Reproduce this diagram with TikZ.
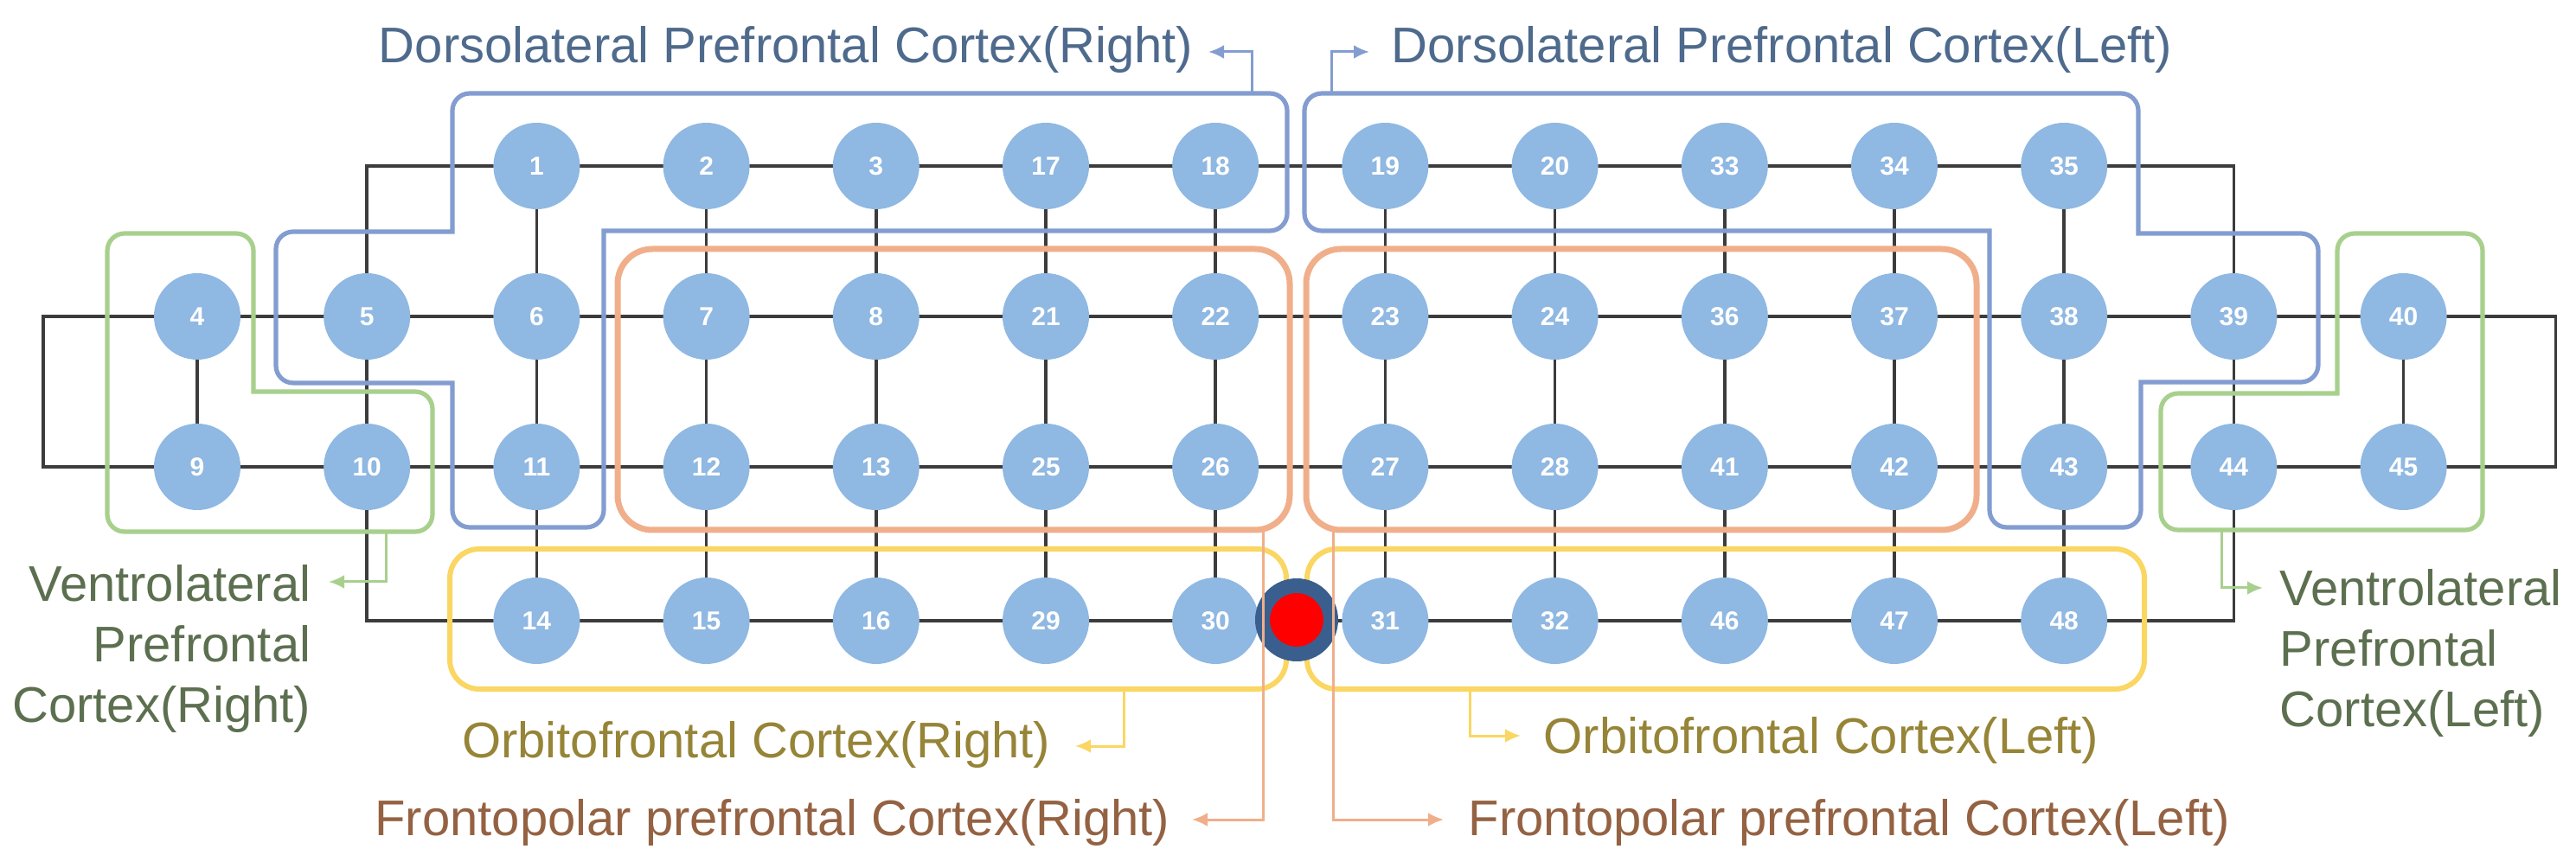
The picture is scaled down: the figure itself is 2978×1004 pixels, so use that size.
\documentclass[tikz,border=0pt]{standalone}
\usepackage{fontspec}
\setmainfont{Liberation Sans}
\usetikzlibrary{arrows.meta}
\definecolor{nodefill}{RGB}{143,184,226}
\definecolor{gridcol}{RGB}{60,60,60}
\definecolor{blueline}{RGB}{131,157,208}
\definecolor{bluetext}{RGB}{78,106,140}
\definecolor{greenline}{RGB}{168,208,141}
\definecolor{greentext}{RGB}{92,112,80}
\definecolor{orangeline}{RGB}{240,175,138}
\definecolor{orangetext}{RGB}{148,98,66}
\definecolor{yellowline}{RGB}{250,214,98}
\definecolor{yellowtext}{RGB}{150,132,55}
\definecolor{ringcol}{RGB}{58,95,142}
\pgfdeclarelayer{gridlayer}
\pgfdeclarelayer{regionlayer}
\pgfsetlayers{gridlayer,regionlayer,main}
\tikzset{
  ch/.style={circle, fill=nodefill, minimum size=25pt, inner sep=0pt, text=white,
             font=\fontsize{7.5}{9}\selectfont\bfseries},
  gridline/.style={draw=gridcol, line width=0.9pt},
  region/.style={line width=1.3pt, rounded corners=5pt},
  lbl/.style={inner sep=0pt, font=\fontsize{14.5}{17.5}\selectfont},
  lead/.style={line width=0.75pt, -{Latex[length=4.5pt,width=4pt]}},
}
\begin{document}
\begin{tikzpicture}[x=0.25pt,y=-0.25pt]
\useasboundingbox (0,0) rectangle (2978,1004);

% ---- channel nodes ----
\foreach \lab [count=\i from 3] in {1,2,3,17,18,19,20,33,34,35}
  \node[ch] (n\lab) at ({228+196.2*(\i-1)},192) {\lab};
\foreach \lab [count=\i from 1] in {4,5,6,7,8,21,22,23,24,36,37,38,39,40}
  \node[ch] (n\lab) at ({228+196.2*(\i-1)},366) {\lab};
\foreach \lab [count=\i from 1] in {9,10,11,12,13,25,26,27,28,41,42,43,44,45}
  \node[ch] (n\lab) at ({228+196.2*(\i-1)},540) {\lab};
\foreach \lab [count=\i from 3] in {14,15,16,29,30,31,32,46,47,48}
  \node[ch] (n\lab) at ({228+196.2*(\i-1)},718) {\lab};

% ---- marker ----
\node[circle, fill=red, draw=ringcol, line width=4.25pt, minimum size=19.75pt, inner sep=0pt]
  (marker) at (1499,717) {};

% ---- grid ----
\begin{pgfonlayer}{gridlayer}
\draw[gridline] (n5.center) |- (n1.center) -- (n35.center) -| (n39.center);
\draw[gridline] (n4.center) -- ++(-178,0) |- (n9.center) -- (n45.center) -- ++(176,0) |- (n40.center) -- (n4.center);
\draw[gridline] (n10.center) |- (n14.center) -- (n48.center) -| (n44.center);
\draw[gridline] (n4.center) -- (n9.center);
\draw[gridline] (n5.center) -- (n10.center);
\draw[gridline] (n1.center) -- (n6.center) -- (n11.center) -- (n14.center);
\draw[gridline] (n2.center) -- (n7.center) -- (n12.center) -- (n15.center);
\draw[gridline] (n3.center) -- (n8.center) -- (n13.center) -- (n16.center);
\draw[gridline] (n17.center) -- (n21.center) -- (n25.center) -- (n29.center);
\draw[gridline] (n18.center) -- (n22.center) -- (n26.center) -- (n30.center);
\draw[gridline] (n19.center) -- (n23.center) -- (n27.center) -- (n31.center);
\draw[gridline] (n20.center) -- (n24.center) -- (n28.center) -- (n32.center);
\draw[gridline] (n33.center) -- (n36.center) -- (n41.center) -- (n46.center);
\draw[gridline] (n34.center) -- (n37.center) -- (n42.center) -- (n47.center);
\draw[gridline] (n35.center) -- (n38.center) -- (n43.center) -- (n48.center);
\draw[gridline] (n39.center) -- (n44.center);
\draw[gridline] (n40.center) -- (n45.center);
\end{pgfonlayer}

% ---- regions ----
\begin{pgfonlayer}{regionlayer}
% Dorsolateral right
\draw[region, draw=blueline] (1000,108) -- (1488,108) -- (1488,267)
  [sharp corners] -- (698,267) [rounded corners=5pt] -- (698,610) -- (523,610)
  [sharp corners] -- (523,443) [rounded corners=5pt] -- (319,443) -- (319,268)
  [sharp corners] -- (523,268) [rounded corners=5pt] -- (523,108) -- cycle;
% Dorsolateral left
\draw[region, draw=blueline] (2000,108) -- (2472,108)
  [sharp corners] -- (2472,270) [rounded corners=5pt] -- (2680,270) -- (2680,442)
  [sharp corners] -- (2475,442) [rounded corners=5pt] -- (2475,610) -- (2300,610)
  [sharp corners] -- (2300,267) [rounded corners=5pt] -- (1508,267) -- (1508,108) -- cycle;
% Ventrolateral right
\draw[region, draw=greenline] (200,270) -- (293,270)
  [sharp corners] -- (293,453) [rounded corners=5pt] -- (500,453) -- (500,615) -- (124,615) -- (124,270) -- cycle;
% Ventrolateral left
\draw[region, draw=greenline] (2780,270) -- (2870,270) -- (2870,613) -- (2498,613) -- (2498,455)
  [sharp corners] -- (2702,455) [rounded corners=5pt] -- (2702,270) -- cycle;
% Frontopolar
\draw[draw=orangeline, line width=1.75pt, rounded corners=10pt] (714,288) rectangle (1491,613);
\draw[draw=orangeline, line width=1.75pt, rounded corners=10pt] (1510,288) rectangle (2285,613);
% Orbitofrontal
\draw[draw=yellowline, line width=1.5pt, rounded corners=8.5pt] (520,635) rectangle (1487,797);
\draw[draw=yellowline, line width=1.5pt, rounded corners=8.5pt] (1511,635) rectangle (2479,797);
\end{pgfonlayer}

% ---- labels ----
\node[lbl, text=bluetext, anchor=base east] (lDLR) at (1380,73) {Dorsolateral Prefrontal Cortex(Right)};
\node[lbl, text=bluetext, anchor=base west] (lDLL) at (1608,73) {Dorsolateral Prefrontal Cortex(Left)};
\node[lbl, text=yellowtext, anchor=base east] (lOFR) at (1215,876) {Orbitofrontal Cortex(Right)};
\node[lbl, text=yellowtext, anchor=base west] (lOFL) at (1784,871) {Orbitofrontal Cortex(Left)};
\node[lbl, text=orangetext, anchor=base east] (lFPR) at (1353,966) {Frontopolar prefrontal Cortex(Right)};
\node[lbl, text=orangetext, anchor=base west] (lFPL) at (1697,966) {Frontopolar prefrontal Cortex(Left)};
\node[lbl, text=greentext, align=right, anchor=north east] (lVLR) at (360,653) {Ventrolateral\\Prefrontal\\Cortex(Right)};
\node[lbl, text=greentext, align=left, anchor=north west] (lVLL) at (2635,658) {Ventrolateral\\Prefrontal\\Cortex(Left)};

% ---- leader lines ----
\coordinate (aDLR) at (1447,108); \coordinate (tDLR) at (1397,60);
\coordinate (aDLL) at (1539,108); \coordinate (tDLL) at (1583,60);
\coordinate (aOFR) at (1299,797); \coordinate (tOFR) at (1243,863);
\coordinate (aOFL) at (1699,797); \coordinate (tOFL) at (1758,851);
\coordinate (aFPR) at (1460,613); \coordinate (tFPR) at (1378,948);
\coordinate (aFPL) at (1541,613); \coordinate (tFPL) at (1669,948);
\coordinate (aVLR) at (446,615);  \coordinate (tVLR) at (380,673);
\coordinate (aVLL) at (2568,613); \coordinate (tVLL) at (2616,680);
\draw[lead, draw=blueline] (aDLR) |- (tDLR);
\draw[lead, draw=blueline] (aDLL) |- (tDLL);
\draw[lead, draw=yellowline] (aOFR) |- (tOFR);
\draw[lead, draw=yellowline] (aOFL) |- (tOFL);
\draw[lead, draw=orangeline] (aFPR) |- (tFPR);
\draw[lead, draw=orangeline] (aFPL) |- (tFPL);
\draw[lead, draw=greenline] (aVLR) |- (tVLR);
\draw[lead, draw=greenline] (aVLL) |- (tVLL);
\end{tikzpicture}
\end{document}
